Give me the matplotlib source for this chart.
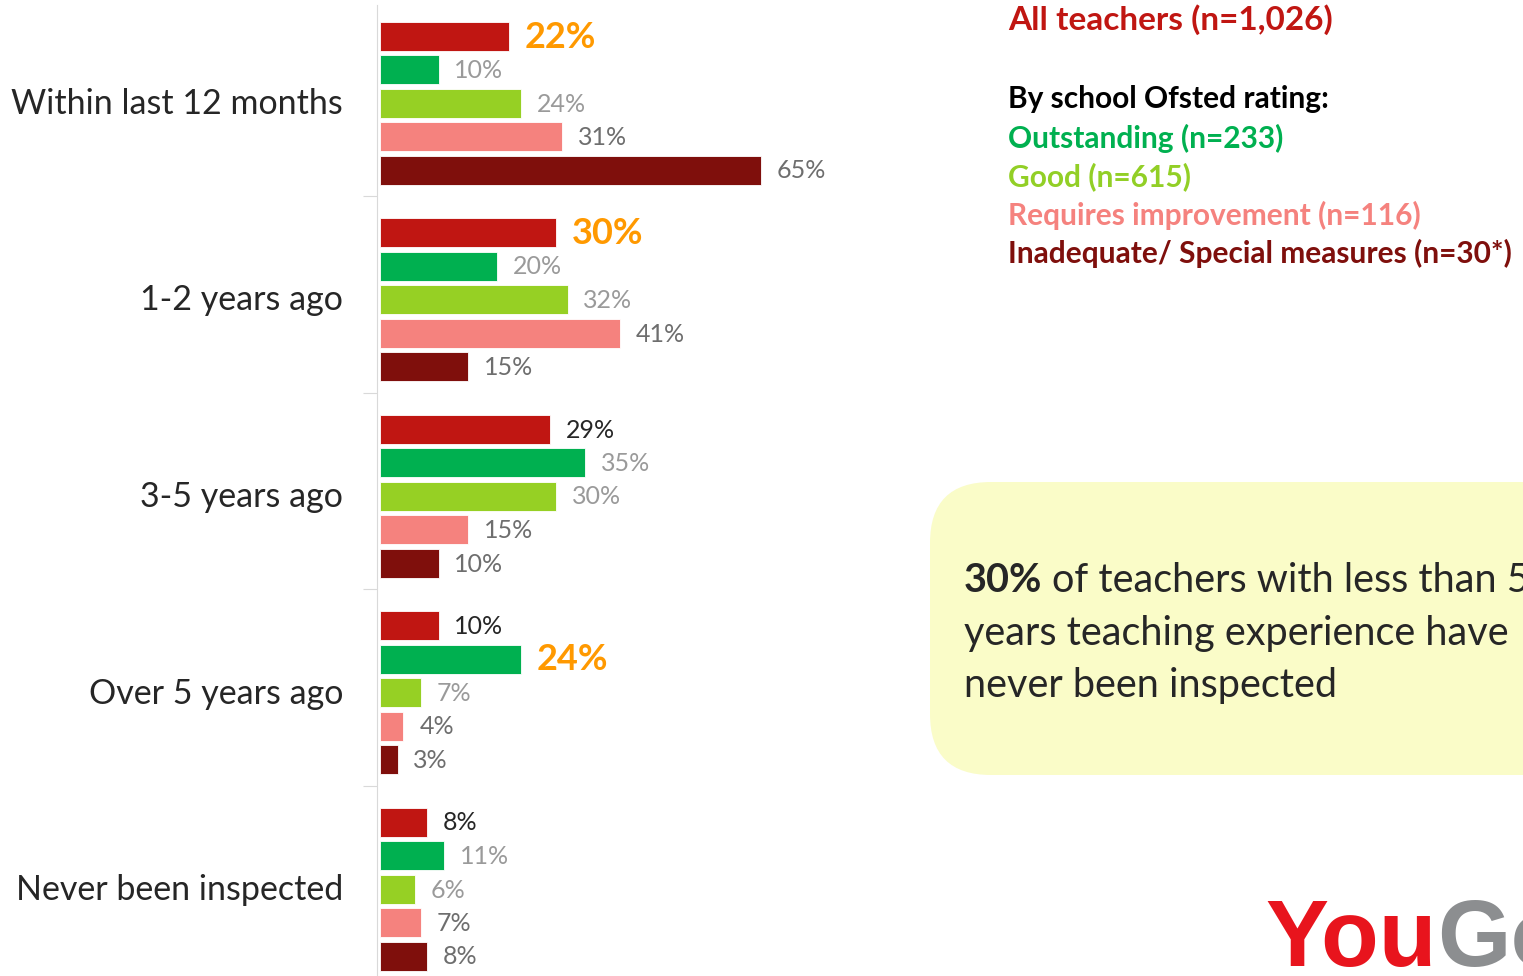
import matplotlib
matplotlib.use('Agg')
import matplotlib.pyplot as plt
from matplotlib.patches import FancyBboxPatch
from matplotlib.transforms import blended_transform_factory

plt.rcParams['font.family'] = ['Lato', 'DejaVu Sans']

# data
categories = ['Within last 12 months', '1-2 years ago', '3-5 years ago',
              'Over 5 years ago', 'Never been inspected']
series = ['All teachers (n=1,026)', 'Outstanding (n=233)', 'Good (n=615)',
          'Requires improvement (n=116)', 'Inadequate/ Special measures (n=30*)']
all_teachers = [22, 30, 29, 10, 8]
outstanding = [10, 20, 35, 24, 11]
good = [24, 32, 30, 7, 6]
requires_impr = [31, 41, 15, 4, 7]
inadequate = [65, 15, 10, 3, 8]
values = [all_teachers, outstanding, good, requires_impr, inadequate]
highlights = [(0, 0), (0, 1), (1, 3)]  # (series, category)

bar_colors = ['#c01612', '#00b050', '#96d024', '#f5827e', '#7f0f0c']
label_colors = ['#262626', '#9a9a9a', '#9a9a9a', '#6e6e6e', '#6e6e6e']
legend_colors = ['#c01612', '#00b050', '#92cf26', '#f5827e', '#7f0f0c']

W, H = 1523, 976
fig = plt.figure(figsize=(W / 100, H / 100), dpi=100)

# main bar axes, y in pixel-like units (top = 0)
ax = fig.add_axes([380 / W, 0, 580 / W, 1])
ax.set_xlim(0, 580 / 5.86)
ax.set_ylim(H, 0)

group_step = 196.5
slot_step = 33.5
first_center = 103
for s, vals in enumerate(values):
    for g, v in enumerate(vals):
        yc = first_center + g * group_step + (s - 2) * slot_step
        ax.barh(yc, v, height=29, color=bar_colors[s], edgecolor='white', linewidth=0.6)
        if (s, g) in highlights:
            ax.text(v + 2.7, yc + 1, f'{v}%', va='center', ha='left', fontsize=26,
                    fontweight='bold', color='#ff9900')
        else:
            ax.text(v + 2.7, yc + 1, f'{v}%', va='center', ha='left', fontsize=18,
                    color=label_colors[s])

for side in ['top', 'right', 'bottom']:
    ax.spines[side].set_visible(False)
ax.spines['left'].set_color('#d9d9d9')
ax.spines['left'].set_bounds(H, 5)
ax.spines['left'].set_position(('outward', 2))
ax.set_xticks([])
ax.set_yticks([first_center + (g + 0.5) * group_step - 5 for g in range(4)])
ax.set_yticklabels([])
ax.tick_params(axis='y', length=10, color='#d9d9d9')

trans = blended_transform_factory(fig.transFigure, ax.transData)
for g, cat in enumerate(categories):
    fig.text(343 / W, first_center + g * group_step + 1, cat, transform=trans,
             ha='right', va='center', fontsize=24.5, color='#262626')

# legend-like text block
def px(x, y):
    return x / W, 1 - y / H

fig.text(*px(1008, 20), series[0], fontsize=24, fontweight='bold',
         color=legend_colors[0], va='center', ha='left')
fig.text(*px(1008, 99), 'By school Ofsted rating:', fontsize=21.5, fontweight='bold',
         color='#000000', va='center', ha='left')
for i in range(1, 5):
    fig.text(*px(1008, 138 + (i - 1) * 38.5), series[i], fontsize=21.5,
             fontweight='bold', color=legend_colors[i], va='center', ha='left')

# callout box
box = FancyBboxPatch((930 / W, 1 - 775 / H), 700 / W, 293 / H,
                     boxstyle='round,pad=0,rounding_size=0.04',
                     transform=fig.transFigure, facecolor='#fafcc8',
                     edgecolor='none', mutation_aspect=W / H)
fig.patches.append(box)

renderer = fig.canvas.get_renderer()
t1 = fig.text(*px(964, 580), '30%', fontsize=28.5, fontweight='bold',
              color='#262626', va='center', ha='left')
bb = t1.get_window_extent(renderer)
fig.text((bb.x1 + 10) / W, 1 - 580 / H, 'of teachers with less than 5',
         fontsize=28.5, color='#262626', va='center', ha='left')
fig.text(*px(964, 633), 'years teaching experience have', fontsize=28.5,
         color='#262626', va='center', ha='left')
fig.text(*px(964, 685), 'never been inspected', fontsize=28.5,
         color='#262626', va='center', ha='left')

# logo
y1 = fig.text(1265 / W, 1 - 966 / H, 'You', fontsize=68, fontweight='bold',
              family='Liberation Sans', color='#e8141d', va='baseline', ha='left')
bb = y1.get_window_extent(renderer)
fig.text((bb.x1 + 1) / W, 1 - 966 / H, 'Gov', fontsize=68, fontweight='bold',
         family='Liberation Sans', color='#8c8e90', va='baseline', ha='left')

fig.savefig('out.png', dpi=100)
